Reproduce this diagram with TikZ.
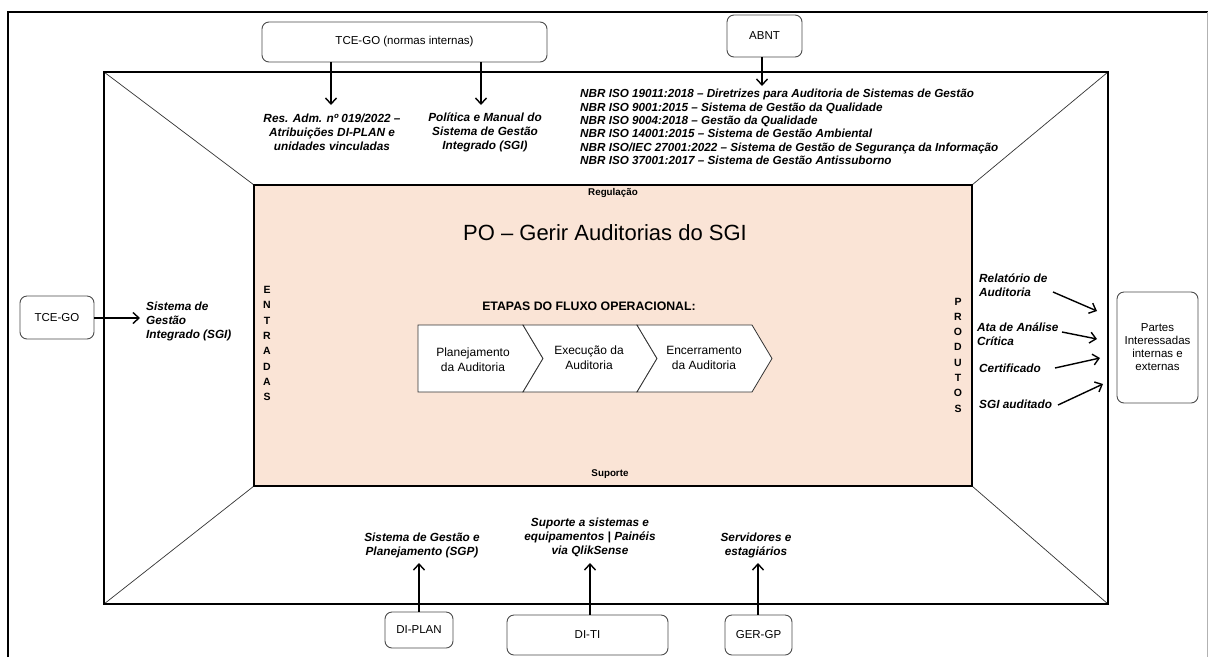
\documentclass[tikz,border=0pt]{standalone}
\usepackage{fontspec}
\setmainfont{Liberation Sans}
\usetikzlibrary{arrows.meta}
\definecolor{peach}{RGB}{250,228,214}
\begin{document}
\begin{tikzpicture}[x=1pt,y=-1pt,
  rbox/.style={draw=black!70, rounded corners=7pt, line width=0.9pt, fill=white,
    font=\fontsize{11.5}{13}\selectfont, align=center, inner sep=0pt},
  lbl/.style={font=\fontsize{11.8}{14}\selectfont\bfseries\itshape, align=center, inner sep=0pt},
  arr/.style={-{Straight Barb[length=6pt,width=11pt,line width=1.4pt]}, line width=1.4pt},
  chev/.style={fill=white, draw=black!80, line width=0.8pt},
  chevtxt/.style={font=\fontsize{12}{15}\selectfont, align=center, inner sep=0pt},
  vert/.style={font=\fontsize{10.5}{15.3}\selectfont\bfseries, align=center, inner sep=0pt},
  diag/.style={line width=0.7pt, black!80}
]
\useasboundingbox (0,0) rectangle (1208,657);
\fill[white] (0,0) rectangle (1208,657);
% outer frame
\draw[line width=2pt] (8,657) -- (8,12) -- (1208,12);
\draw[gray!60, line width=0.8pt] (1207,12) -- (1207,657);
% main frame corners
\coordinate (MTL) at (104,72);
\coordinate (MTR) at (1108,72);
\coordinate (MBL) at (104,604);
\coordinate (MBR) at (1108,604);
\coordinate (ITL) at (254,185);
\coordinate (ITR) at (972,185);
\coordinate (IBL) at (254,486);
\coordinate (IBR) at (972,486);
\draw[diag] (MTL) -- (ITL);
\draw[diag] (MTR) -- (ITR);
\draw[diag] (MBL) -- (IBL);
\draw[diag] (MBR) -- (IBR);
\draw[line width=2.5pt] (MTL) rectangle (MBR);
\draw[fill=peach, line width=1.2pt] (ITL) rectangle (IBR);

% inner texts
\node[font=\fontsize{9.8}{11}\selectfont\bfseries] (reg) at (613,193) {Regulação};
\node[font=\fontsize{9.8}{11}\selectfont\bfseries] (sup) at (610,474) {Suporte};
\node[font=\fontsize{22}{26}\selectfont] (title) at (605,233) {PO – Gerir Auditorias do SGI};
\node[font=\fontsize{12.3}{14}\selectfont\bfseries] (etapas) at (589,306) {ETAPAS DO FLUXO OPERACIONAL:};
\node[vert] (entr) at (267,343.5) {E\\N\\T\\R\\A\\D\\A\\S};
\node[vert] (prod) at (958,355) {P\\R\\O\\D\\U\\T\\O\\S};

% chevrons
\draw[chev] (418,325) -- (523,325) -- (543,358.5) -- (523,392) -- (418,392) -- cycle;
\draw[chev] (523,325) -- (637,325) -- (657,358.5) -- (637,392) -- (523,392) -- (543,358.5) -- cycle;
\draw[chev] (637,325) -- (752,325) -- (772,358.5) -- (752,392) -- (637,392) -- (657,358.5) -- cycle;
\node[chevtxt] (c1) at (473,359.5) {Planejamento\\da Auditoria};
\node[chevtxt] (c2) at (589,357.5) {Execução da\\Auditoria};
\node[chevtxt] (c3) at (704,357.5) {Encerramento\\da Auditoria};

% top
\node[rbox, minimum width=285pt, minimum height=40pt] (tcein) at (404.5,42) {TCE-GO (normas internas)};
\node[rbox, minimum width=75pt, minimum height=42pt] (abnt) at (764.5,36) {ABNT};
\node[lbl] (res) at (332,132) {Res. Adm. nº 019/2022 –\\Atribuições DI-PLAN e\\unidades vinculadas};
\node[lbl] (pol) at (485,132) {Política e Manual do\\Sistema de Gestão\\Integrado (SGI)};
\node[lbl, align=left, anchor=west, font=\fontsize{11.7}{13.4}\selectfont\bfseries\itshape] (nbr) at (580,127) {NBR ISO 19011:2018 – Diretrizes para Auditoria de Sistemas de Gestão\\
NBR ISO 9001:2015 – Sistema de Gestão da Qualidade\\
NBR ISO 9004:2018 – Gestão da Qualidade\\
NBR ISO 14001:2015 – Sistema de Gestão Ambiental\\
NBR ISO/IEC 27001:2022 – Sistema de Gestão de Segurança da Informação\\
NBR ISO 37001:2017 – Sistema de Gestão Antissuborno};
\coordinate (t1) at (331,105);
\coordinate (t2) at (481,105);
\coordinate (t3) at (762,86);
\draw[arr] (t1 |- tcein.south) -- (t1);
\draw[arr] (t2 |- tcein.south) -- (t2);
\draw[arr] (t3 |- abnt.south) -- (t3);

% left
\node[rbox, minimum width=74pt, minimum height=43pt] (tcego) at (57,317.5) {TCE-GO};
\node[lbl, align=left, anchor=west] (sgi) at (146,321) {Sistema de\\Gestão\\Integrado (SGI)};
\coordinate (l1) at (140,318);
\draw[arr] (tcego.east |- l1) -- (l1);

% right
\node[rbox, minimum width=81pt, minimum height=111pt] (partes) at (1157.5,347.5) {Partes\\Interessadas\\internas e\\externas};
\node[lbl, align=left, anchor=west] (p1) at (979,285) {Relatório de\\Auditoria};
\node[lbl, align=left, anchor=west] (p2) at (977,334) {Ata de Análise\\Crítica};
\node[lbl, align=left, anchor=west] (p3) at (979,368) {Certificado};
\node[lbl, align=left, anchor=west] (p4) at (979,404) {SGI auditado};
\coordinate (s1) at (1053,292); \coordinate (e1) at (1097,311);
\coordinate (s2) at (1062,332); \coordinate (e2) at (1097,339);
\coordinate (s3) at (1055,368); \coordinate (e3) at (1100,358);
\coordinate (s4) at (1058,405); \coordinate (e4) at (1103,384);
\draw[arr] (s1) -- (e1);
\draw[arr] (s2) -- (e2);
\draw[arr] (s3) -- (e3);
\draw[arr] (s4) -- (e4);

% bottom
\node[rbox, minimum width=68pt, minimum height=36pt] (diplan) at (419,630) {DI-PLAN};
\node[rbox, minimum width=161pt, minimum height=40pt] (diti) at (587.5,635) {DI-TI};
\node[rbox, minimum width=67pt, minimum height=40pt] (gergp) at (758.5,635) {GER-GP};
\node[lbl] (sgp) at (422,545) {Sistema de Gestão e\\Planejamento (SGP)};
\node[lbl] (supsis) at (590,537) {Suporte a sistemas e\\equipamentos | Painéis\\via QlikSense};
\node[lbl] (serv) at (756,545) {Servidores e\\estagiários};
\coordinate (b1) at (419,563);
\coordinate (b2) at (590,563);
\coordinate (b3) at (758,563);
\draw[arr] (b1 |- diplan.north) -- (b1);
\draw[arr] (b2 |- diti.north) -- (b2);
\draw[arr] (b3 |- gergp.north) -- (b3);
\end{tikzpicture}
\end{document}
